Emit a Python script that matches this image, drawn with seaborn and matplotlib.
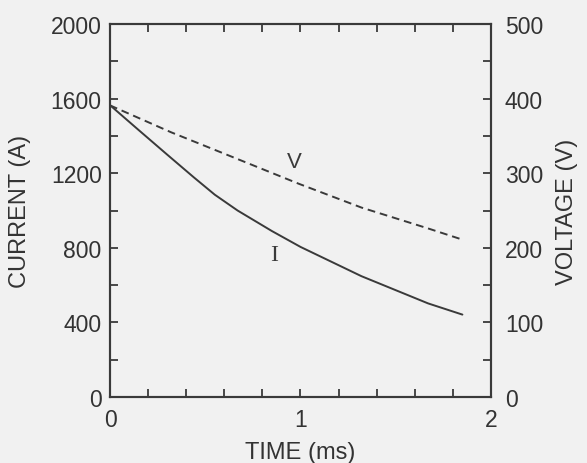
import matplotlib
matplotlib.use("Agg")
import matplotlib.pyplot as plt
import seaborn as sns
import pandas as pd
from matplotlib.ticker import MultipleLocator

# Data
time_i = [0.0, 0.15, 0.3, 0.44, 0.55, 0.67, 0.85, 1.0, 1.32, 1.67, 1.85]
current = [1565, 1432, 1300, 1178, 1085, 1000, 890, 805, 648, 502, 442]
time_v = [0.0, 0.32, 0.67, 0.99, 1.32, 1.67, 1.85]
voltage = [391, 355, 319, 286, 254, 226, 211]

sns.set_style("white")
plt.rcParams['font.family'] = ['Liberation Sans', 'DejaVu Sans']

bg = "#f1f1f1"
ink = "#3a3a3a"
txt = "#333333"
fig = plt.figure(figsize=(5.87, 4.64), dpi=100, facecolor=bg)
ax = fig.add_axes([0.1874, 0.1422, 0.649, 0.8038])
ax.set_facecolor(bg)
ax2 = ax.twinx()

df_i = pd.DataFrame({"t": time_i, "I": current})
df_v = pd.DataFrame({"t": time_v, "V": voltage})
sns.lineplot(data=df_i, x="t", y="I", ax=ax, color=ink, linewidth=1.4)
sns.lineplot(data=df_v, x="t", y="V", ax=ax2, color=ink, linewidth=1.4, linestyle=(0, (4, 2.5)))

ax.set_xlim(0, 2)
ax.set_ylim(0, 2000)
ax2.set_ylim(0, 500)

ax.xaxis.set_major_locator(MultipleLocator(1))
ax.xaxis.set_minor_locator(MultipleLocator(0.2))
ax.yaxis.set_major_locator(MultipleLocator(400))
ax.yaxis.set_minor_locator(MultipleLocator(200))
ax2.yaxis.set_major_locator(MultipleLocator(100))
ax2.yaxis.set_minor_locator(MultipleLocator(50))

for a in (ax, ax2):
    for s in a.spines.values():
        s.set_color(ink)
        s.set_linewidth(1.5)
    a.tick_params(which="both", direction="in", colors=ink, labelsize=16.5, width=1.3)
    a.tick_params(which="major", length=6)
    a.tick_params(which="minor", length=6)

ax.tick_params(axis="x", which="both", top=True, bottom=True, labelcolor=txt, pad=8)
ax.tick_params(axis="y", which="both", left=True, right=False, labelcolor=txt, pad=6)
ax2.tick_params(axis="y", which="both", right=True, left=False, labelcolor=txt, pad=10)

ax.set_xlabel("TIME (ms)", fontsize=17, color=txt, labelpad=7)
ax.set_ylabel("CURRENT (A)", fontsize=17, color=txt, labelpad=14)
ax2.set_ylabel("VOLTAGE (V)", fontsize=17, color=txt, labelpad=9)

ax.text(0.97, 1265, "V", fontsize=16, color=ink, ha="center", va="center")
ax.text(0.86, 765, "I", fontsize=17, color=ink, ha="center", va="center", family="Liberation Serif")

fig.savefig("out.png", dpi=100, facecolor=bg)
